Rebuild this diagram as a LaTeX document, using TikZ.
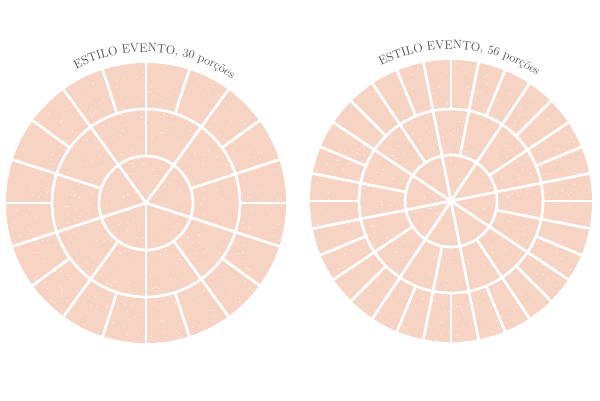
\documentclass[tikz,border=0pt]{standalone}
\usepackage{fontspec}
\usetikzlibrary{decorations.text}
\definecolor{cake}{RGB}{247,211,196}
\definecolor{titlegray}{RGB}{78,78,78}
\begin{document}
\begin{tikzpicture}[x=1pt,y=1pt,
  cut/.style={white, line width=2.7pt},
  speck/.style={fill=white, opacity=0.9},
  titlearc/.style={decorate, decoration={text along path, text align=center,
     text={|\fontsize{12.3}{14}\selectfont\color{titlegray}|#1}}}]
\useasboundingbox (0,0) rectangle (600,400);
\pgfmathsetseed{7}
% ---------- left cake: 30 portions ----------
\coordinate (L) at (146,197);
\begin{scope}[shift={(L)}]
  \fill[cake] (0,0) circle (140);
  \foreach \i in {1,...,900} {
    \pgfmathsetmacro{\rr}{139*sqrt(rnd)}
    \pgfmathsetmacro{\aa}{360*rnd}
    \fill[speck] (\aa:\rr) circle (0.5);
  }
  \draw[cut] (0,0) circle (94);
  \draw[cut] (0,0) circle (47);
  \foreach \a in {0,18,...,342} \draw[cut] (\a:94) -- (\a:142);
  \foreach \a in {18,54,...,342} \draw[cut] (\a:47) -- (\a:94);
  \foreach \a in {54,126,...,342} \draw[cut] (0,0) -- (\a:47);
  \path[titlearc={ESTILO EVENTO, 30 porções}] (129:151) arc[start angle=129, end angle=44, radius=151];
\end{scope}
% ---------- right cake: 56 portions ----------
\coordinate (R) at (451,199);
\begin{scope}[shift={(R)}]
  \fill[cake] (0,0) circle (141);
  \foreach \i in {1,...,900} {
    \pgfmathsetmacro{\rr}{140*sqrt(rnd)}
    \pgfmathsetmacro{\aa}{360*rnd}
    \fill[speck] (\aa:\rr) circle (0.5);
  }
  \draw[cut] (0,0) circle (92);
  \draw[cut] (0,0) circle (46);
  \foreach \a in {0,11.25,...,349} \draw[cut] (\a:92) -- (\a:143);
  \foreach \a in {11.25,33.75,...,349} \draw[cut] (\a:46) -- (\a:92);
  \foreach \a in {11.25,56.25,...,349} \draw[cut] (0,0) -- (\a:46);
  \path[titlearc={ESTILO EVENTO, 56 porções}] (129:152) arc[start angle=129, end angle=44, radius=152];
\end{scope}
\end{tikzpicture}
\end{document}
